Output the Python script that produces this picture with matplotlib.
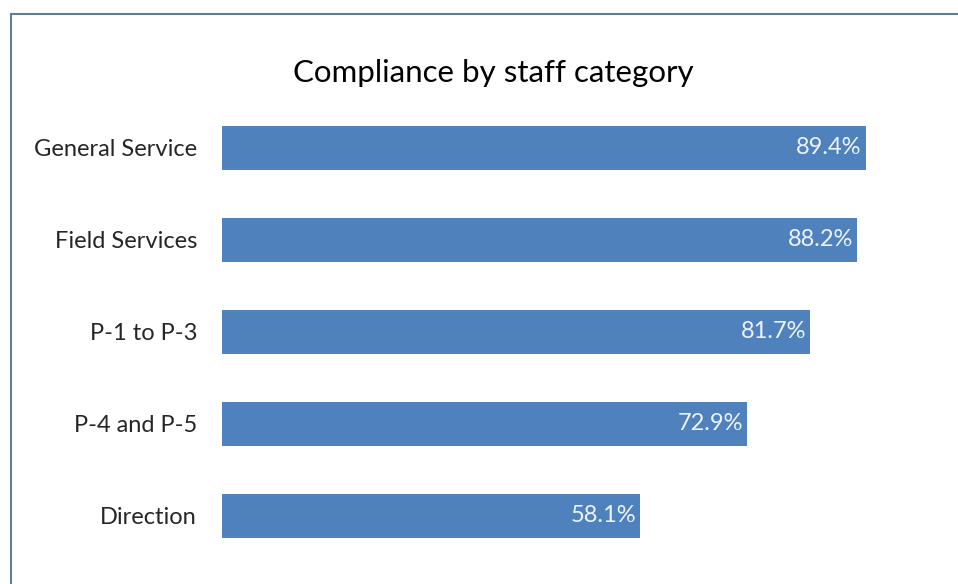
#!/usr/bin/env python3
"""Horizontal bar chart: compliance by staff category."""

import matplotlib

matplotlib.use("Agg")
import matplotlib.pyplot as plt
from matplotlib.patches import Rectangle

categories = ["General Service", "Field Services", "P-1 to P-3", "P-4 and P-5", "Direction"]
compliance = [89.4, 88.2, 81.7, 72.9, 58.1]

W, H = 958, 584
BAR_COLOR = "#4F81BD"

plt.rcParams["font.family"] = ["Lato", "DejaVu Sans"]

fig = plt.figure(figsize=(W / 100, H / 100), dpi=100)
fig.patch.set_facecolor("white")

# outer chart border (runs off right and bottom edges)
fig.patches.append(
    Rectangle(
        (11 / W, -0.05),
        1.1,
        1 - 14 / H + 0.05,
        transform=fig.transFigure,
        fill=False,
        edgecolor="#5f7f99",
        linewidth=1.5,
    )
)

ax = fig.add_axes([222 / W, 1 - 562 / H, 720 / W, 460 / H])
ax.set_facecolor("none")

y_pos = list(range(len(categories)))
ax.barh(y_pos, compliance, height=0.47, color=BAR_COLOR)
ax.set_xlim(0, 100)
ax.set_ylim(len(categories) - 0.5, -0.5)

for y, v in zip(y_pos, compliance):
    ax.text(v - 0.55, y, f"{v:.1f}%", ha="right", va="center",
            color="#eef4fb", fontsize=17)

ax.set_yticks(y_pos)
ax.set_yticklabels(categories, fontsize=17, color="#262626")
ax.tick_params(axis="y", length=0, pad=18)
ax.set_xticks([])
for spine in ax.spines.values():
    spine.set_visible(False)

fig.text(493 / W, 1 - 73 / H, "Compliance by staff category",
         ha="center", va="center", fontsize=22.5, color="black")

fig.savefig("out.png", dpi=100)
